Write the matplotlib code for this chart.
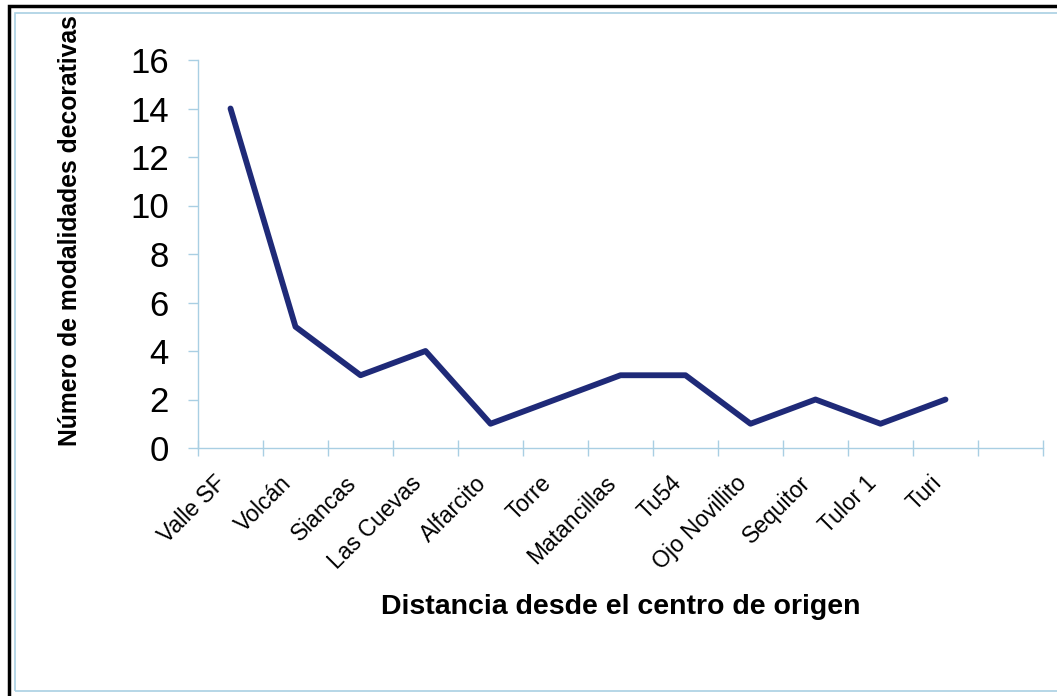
import matplotlib.pyplot as plt
import matplotlib.transforms as mtransforms
from matplotlib.patches import Rectangle

plt.rcParams["font.family"] = ["Liberation Sans", "DejaVu Sans"]

sitios = ["Valle SF", "Volcán", "Siancas", "Las Cuevas", "Alfarcito", "Torre",
          "Matancillas", "Tu54", "Ojo Novillito", "Sequitor", "Tulor 1", "Turi"]
modalidades = [14, 5, 3, 4, 1, 2, 3, 3, 1, 2, 1, 2]
y_ticks = [0, 2, 4, 6, 8, 10, 12, 14, 16]

axis_col = "#a9cfe3"
line_col = "#1f2a78"

fig = plt.figure(figsize=(10.57, 6.96), dpi=100)
ax = fig.add_axes([198 / 1057, 1 - 448 / 696, 845 / 1057, 388 / 696])

x = list(range(len(sitios)))
ax.plot(x, modalidades, color=line_col, lw=4.2, solid_joinstyle="round",
        solid_capstyle="round")

n_slots = len(sitios) + 1
ax.set_xlim(-0.5, n_slots - 0.5)
ax.set_ylim(0, 16)

ax.set_xticks([i - 0.5 for i in range(n_slots + 1)])
ax.set_xticklabels([])
ax.set_xticks(x, minor=True)
ax.set_xticklabels(sitios, minor=True, rotation=45, ha="right",
                   rotation_mode="anchor", fontsize=16.5)
ax.tick_params(axis="x", which="major", direction="inout", length=11,
               width=1, color=axis_col)
ax.tick_params(axis="x", which="minor", length=0, pad=17)
shift = mtransforms.ScaledTranslation(-16 / 100, 0, fig.dpi_scale_trans)
for lab in ax.get_xticklabels(minor=True):
    lab.set_transform(lab.get_transform() + shift)

ax.set_yticks(y_ticks)
ax.set_yticklabels([str(v) for v in y_ticks], fontsize=25)
ax.tick_params(axis="y", direction="out", length=7, width=1, color=axis_col, pad=14)

for s in ["top", "right"]:
    ax.spines[s].set_visible(False)
for s in ["left", "bottom"]:
    ax.spines[s].set_color(axis_col)
    ax.spines[s].set_linewidth(1)

fig.text(70 / 1057, 1 - 231 / 696, "Número de modalidades decorativas",
         rotation=90, ha="center", va="center", fontsize=17.8, fontweight="bold")
fig.text(621 / 1057, 1 - 607 / 696, "Distancia desde el centro de origen",
         ha="center", va="center", fontsize=20.5, fontweight="bold")

# frame
fig.patches.append(Rectangle((9 / 1057, -0.05), 1.1, 1 - 6 / 696 + 0.05,
                             transform=fig.transFigure, fill=False,
                             edgecolor="black", lw=2.5))
fig.patches.append(Rectangle((15 / 1057, 1 - 691 / 696), 1.1, (691 - 13) / 696,
                             transform=fig.transFigure, fill=False,
                             edgecolor=axis_col, lw=1.2))

fig.savefig("out.png", dpi=100)
